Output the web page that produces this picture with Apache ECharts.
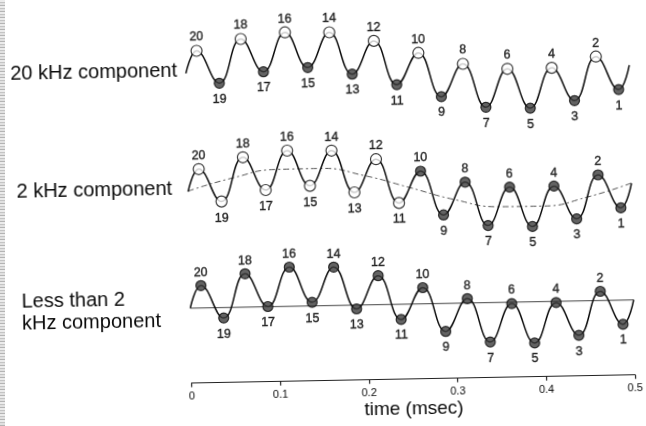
<!DOCTYPE html>
<html>
<head>
<meta charset="utf-8">
<script src="https://cdn.jsdelivr.net/npm/echarts@6/dist/echarts.min.js"></script>
<style>
  html, body { margin: 0; padding: 0; background: #fff; }
  #wrap { position: relative; width: 646px; height: 426px; overflow: hidden; background: #fff; }
  #chart { position: absolute; left: 0; top: 0; width: 646px; height: 426px;
           transform: rotate(-1.07deg); transform-origin: 323px 213px; }
  #edge { position: absolute; left: 0; top: 0; width: 5px; height: 426px;
          background: repeating-linear-gradient(0deg, #b4b4b4 0 1px, #e0e0e0 1px 3px, #c4c4c4 3px 4px, #ebebeb 4px 6px); }
</style>
</head>
<body>
<div id="wrap"><div id="chart"></div><div id="edge"></div></div>
<script>
// Sample instants (msec) at the extremes of the 20 kHz cycle, numbered right to left
const sampleTimes = [0.0125, 0.0375, 0.0625, 0.0875, 0.1125, 0.1375, 0.1625, 0.1875, 0.2125, 0.2375,
                     0.2625, 0.2875, 0.3125, 0.3375, 0.3625, 0.3875, 0.4125, 0.4375, 0.4625, 0.4875];
const sampleNumbers = [20, 19, 18, 17, 16, 15, 14, 13, 12, 11, 10, 9, 8, 7, 6, 5, 4, 3, 2, 1];
// Waveform amplitude at each sample (arbitrary units, relative to the mean level)
const waveValues = [1.12, -0.52, 1.67, 0.01, 1.96, 0.18, 1.92, -0.19, 1.45, -0.76,
                    0.81, -1.40, 0.22, -1.97, -0.07, -2.06, -0.06, -1.72, 0.46, -1.21];
// Waveform at the ends of the 0.5 msec window
const waveEndTimes = [0, 0.5];
const waveEndValues = [0.0, 0.0];

// 2 kHz component (dashed curve)
const comp2kTimes = [0, 0.05, 0.1, 0.15, 0.2, 0.25, 0.3, 0.35, 0.4, 0.45, 0.5];
const comp2kValues = [0.03, 0.64, 1.03, 1.04, 0.63, 0.0, -0.64, -1.04, -1.05, -0.64, 0.02];

// Below-2 kHz component (flat line)
const compLowTimes = [0, 0.5];
const compLowValues = [0.0, 0.0];

// Samples drawn as open circles in each panel
const openTop = [20, 18, 16, 14, 12, 10, 8, 6, 4, 2];
const openMid = [20, 19, 18, 17, 16, 15, 14, 13, 12, 11];
const openLow = [];

const panelLabels = [['20 kHz component'], ['2 kHz component'], ['Less than 2', 'kHz component']];
const xTickValues = [0, 0.1, 0.2, 0.3, 0.4, 0.5];
const xTitle = 'time (msec)';

const FONT = '"Liberation Sans", Arial, sans-serif';
const INK = '#0a0a0a';

const chart = echarts.init(document.getElementById('chart'), null, { renderer: 'canvas' });

// Full waveform path: start, samples, end
const wavePath = [[waveEndTimes[0], waveEndValues[0]]]
  .concat(sampleTimes.map((t, i) => [t, waveValues[i]]))
  .concat([[waveEndTimes[1], waveEndValues[1]]]);

function sampleSeries(gridIdx, openList) {
  return {
    type: 'scatter',
    xAxisIndex: gridIdx, yAxisIndex: gridIdx,
    z: 5,
    data: sampleTimes.map((t, i) => {
      const n = sampleNumbers[i];
      const open = openList.indexOf(n) >= 0;
      const peak = n % 2 === 0;
      return {
        value: [t, waveValues[i]],
        symbolSize: open ? 11 : 10,
        itemStyle: open
          ? { color: '#ffffff', borderColor: INK, borderWidth: 1.2 }
          : { color: '#3c3c3c', borderColor: '#0a0a0a', borderWidth: 1.2 },
        label: {
          show: true,
          formatter: String(n),
          position: peak ? 'top' : 'bottom',
          distance: peak ? 1 : 4,
          fontFamily: FONT, fontSize: 12.5, color: '#000',
          textBorderColor: '#000', textBorderWidth: 0.4
        }
      };
    })
  };
}

function waveSeries(gridIdx) {
  return {
    type: 'line', xAxisIndex: gridIdx, yAxisIndex: gridIdx,
    data: wavePath, smooth: 0.45, showSymbol: false, z: 3,
    lineStyle: { color: INK, width: 1.5 }
  };
}

const grids = [
  { left: 188.5, right: 14, top: 10.9, height: 120 },
  { left: 188.5, right: 14, top: 129.2, height: 120 },
  { left: 188.5, right: 14, top: 245.7, height: 135 }
];

const xAxes = grids.map((g, i) => ({
  type: 'value', gridIndex: i, min: xTickValues[0], max: xTickValues[xTickValues.length - 1],
  interval: xTickValues[1] - xTickValues[0],
  show: i === 2,
  name: i === 2 ? xTitle : '',
  nameLocation: 'middle', nameGap: 21,
  nameTextStyle: { fontFamily: FONT, fontSize: 19, color: INK },
  axisLine: { show: true, onZero: false, lineStyle: { color: '#222', width: 1.2 } },
  axisTick: { show: true, length: 4, inside: false, lineStyle: { color: '#222', width: 1.2 } },
  axisLabel: { show: true, margin: 8, fontFamily: FONT, fontSize: 11, color: INK },
  splitLine: { show: false }
}));

const yAxes = grids.map((g, i) => ({
  type: 'value', gridIndex: i, min: i === 2 ? -3.75 : -3, max: 3, show: false,
  splitLine: { show: false }
}));

const textNodes = [];
const labelPos = [[13, 69], [17, 187.5], [20, 297]];
panelLabels.forEach((lines, i) => {
  lines.forEach((line, j) => {
    textNodes.push({
      type: 'text', left: labelPos[i][0], top: labelPos[i][1] + j * 22 - 11,
      style: { text: line, font: '20px ' + FONT, fill: INK }
    });
  });
});

chart.setOption({
  animation: false,
  backgroundColor: '#ffffff',
  grid: grids,
  xAxis: xAxes,
  yAxis: yAxes,
  graphic: textNodes,
  series: [
    // top: 20 kHz component
    waveSeries(0),
    sampleSeries(0, openTop),
    // middle: 2 kHz component
    {
      type: 'line', xAxisIndex: 1, yAxisIndex: 1, z: 2,
      data: comp2kTimes.map((t, i) => [t, comp2kValues[i]]),
      smooth: 0.5, showSymbol: false,
      lineStyle: { color: '#555', width: 1, type: [6, 3, 2, 3] }
    },
    waveSeries(1),
    sampleSeries(1, openMid),
    // bottom: below 2 kHz component
    {
      type: 'line', xAxisIndex: 2, yAxisIndex: 2, z: 2,
      data: compLowTimes.map((t, i) => [t, compLowValues[i]]),
      showSymbol: false,
      lineStyle: { color: '#444', width: 1 }
    },
    waveSeries(2),
    sampleSeries(2, openLow)
  ]
});
</script>
</body>
</html>
